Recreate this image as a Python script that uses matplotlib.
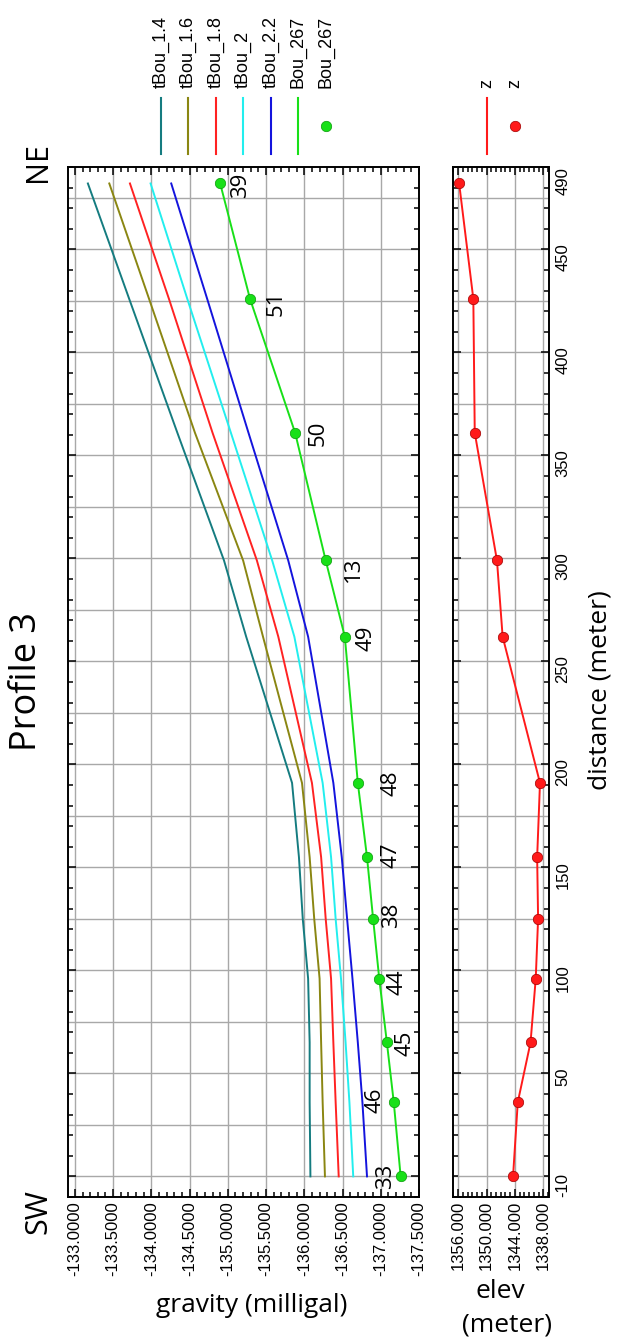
import matplotlib.pyplot as plt
from matplotlib.lines import Line2D
from matplotlib.ticker import FixedLocator, FormatStrFormatter, MultipleLocator

plt.rcParams["font.family"] = ["Liberation Sans", "DejaVu Sans"]

W, H, DPI = 623, 1343, 100

# gravity stations along profile 3 (SW -> NE)
stations = ["33", "46", "45", "44", "38", "47", "48", "49", "13", "50", "51", "39"]
distance = [0, 36, 65, 96, 125, 155, 191, 262, 299, 361, 426, 482]

tbou_14 = [-136.08, -136.07, -136.07, -136.05, -135.98, -135.93, -135.84,
           -135.24, -134.95, -134.34, -133.71, -133.17]
tbou_16 = [-136.27, -136.24, -136.22, -136.20, -136.13, -136.07, -135.97,
           -135.46, -135.20, -134.57, -133.97, -133.45]
tbou_18 = [-136.45, -136.41, -136.38, -136.35, -136.28, -136.22, -136.10,
           -135.66, -135.38, -134.80, -134.23, -133.72]
tbou_20 = [-136.64, -136.59, -136.54, -136.48, -136.41, -136.35, -136.24,
           -135.87, -135.58, -135.04, -134.47, -133.99]
tbou_22 = [-136.82, -136.76, -136.70, -136.63, -136.56, -136.49, -136.38,
           -136.05, -135.79, -135.27, -134.73, -134.26]
bou_267 = [-137.26, -137.17, -137.08, -136.98, -136.90, -136.82, -136.70,
           -136.53, -136.28, -135.88, -135.29, -134.90]

elev = [1344.4, 1343.4, 1340.7, 1339.6, 1339.1, 1339.3, 1338.7,
        1346.6, 1347.8, 1352.5, 1352.8, 1355.8]

series_names = ["tBou_1.4", "tBou_1.6", "tBou_1.8", "tBou_2", "tBou_2.2", "Bou_267"]
series_values = [tbou_14, tbou_16, tbou_18, tbou_20, tbou_22, bou_267]
series_colors = ["#157c80", "#8a8612", "#ff2222", "#22eeee", "#1414dd", "#18e018"]

distance_ticks = [-10, 50, 100, 150, 200, 250, 300, 350, 400, 450, 490]
gravity_ticks = [-133.0, -133.5, -134.0, -134.5, -135.0, -135.5, -136.0,
                 -136.5, -137.0, -137.5]
elev_ticks = [1356, 1350, 1344, 1338]

# station label offsets in pixels (x right, y up)
label_offsets = [(-15, 0), (-19, 2), (18, -1), (18, -4), (18, 4), (24, 2),
                 (33, 0), (21, -2), (28, -9), (23, -1), (26, -4), (20, -2)]

SANS = "Open Sans"
PT = 72 / DPI
GRID = "#a8a8a8"


def px(x, y):
    """Pixel position (from top-left) to figure fraction."""
    return x / W, 1 - y / H


def style_frame(ax):
    for s in ax.spines.values():
        s.set_linewidth(1.4)
    ax.tick_params(which="both", direction="in", top=True, bottom=True,
                   left=True, right=True, width=1.1, colors="black")
    ax.tick_params(which="major", length=6)
    ax.tick_params(which="minor", length=3.5)
    ax.set_axisbelow(True)
    # horizontal grid every 25 m of distance
    for d in range(0, 491, 25):
        ax.axhline(d, color=GRID, linewidth=1.0, zorder=0)


fig = plt.figure(figsize=(W / DPI, H / DPI), dpi=DPI)

ax = fig.add_axes([68 / W, 1 - 1197 / H, (419 - 68) / W, (1197 - 167) / H])
ax2 = fig.add_axes([453 / W, 1 - 1197 / H, (548.5 - 453) / W, (1197 - 167) / H])

for values, color in zip(series_values, series_colors):
    ax.plot(values, distance, color=color, linewidth=1.4, zorder=3)
ax.plot(bou_267, distance, linestyle="none", marker="o", markersize=7.5,
        markerfacecolor="#18e018", markeredgecolor="#0a9a0a",
        markeredgewidth=0.5, zorder=4)

for name, g, d, (dx, dy) in zip(stations, bou_267, distance, label_offsets):
    ax.annotate(name, (g, d), xytext=(dx * PT, dy * PT),
                textcoords="offset points", rotation=90, ha="center",
                va="center", fontsize=16, family=SANS, zorder=5)

ax2.plot(elev, distance, color="#ff1a1a", linewidth=1.4, marker="o",
         markersize=7.5, markerfacecolor="#ff1a1a", markeredgecolor="#a00000",
         markeredgewidth=0.5, zorder=3)

for a in (ax, ax2):
    a.set_ylim(-10, 490)
    a.yaxis.set_minor_locator(MultipleLocator(10))
    style_frame(a)

ax.yaxis.set_major_locator(MultipleLocator(50))
ax.set_xlim(-132.91, -137.5)
ax.xaxis.set_major_locator(FixedLocator(gravity_ticks))
ax.xaxis.set_minor_locator(MultipleLocator(0.1))
ax.xaxis.set_major_formatter(FormatStrFormatter("%.4f"))
ax.tick_params(axis="x", labelrotation=90, labelsize=12, pad=3)
ax.tick_params(axis="y", labelleft=False)
ax.grid(True, axis="x", color=GRID, linewidth=1.0)

ax2.set_xlim(1357.1, 1336.9)
ax2.xaxis.set_major_locator(FixedLocator(elev_ticks))
ax2.xaxis.set_minor_locator(MultipleLocator(1))
ax2.xaxis.set_major_formatter(FormatStrFormatter("%.3f"))
ax2.tick_params(axis="x", labelrotation=90, labelsize=12, pad=3)
ax2.grid(True, axis="x", color=GRID, linewidth=1.0)

# distance labels on the right side of the elevation panel
ax2.set_yticks(distance_ticks)
ax2.yaxis.set_major_formatter(FormatStrFormatter("%d"))
ax2.tick_params(axis="y", labelleft=False, labelright=True,
                labelrotation=90, labelsize=12, pad=5)
ylabels = ax2.get_yticklabels()
ylabels[0].set_va("bottom")
ylabels[-1].set_va("top")

# legend drawn as rotated entries above the panels
legend_x = [161, 188, 216, 243, 271, 298]
for x, name, color in zip(legend_x, series_names, series_colors):
    fig.add_artist(Line2D([x / W, x / W], [1 - 98 / H, 1 - 154 / H],
                          color=color, linewidth=1.5))
    fig.text(*px(x, 88), name, rotation=90, ha="center", va="bottom",
             fontsize=13)
fig.add_artist(Line2D([326 / W], [1 - 126 / H], marker="o", markersize=7.5,
                      markerfacecolor="#18e018", markeredgecolor="#0a9a0a",
                      markeredgewidth=0.5, linestyle="none"))
fig.text(*px(326, 88), "Bou_267", rotation=90, ha="center", va="bottom",
         fontsize=13)
fig.add_artist(Line2D([487 / W, 487 / W], [1 - 98 / H, 1 - 154 / H],
                      color="#ff1a1a", linewidth=1.5))
fig.text(*px(487, 88), "z", rotation=90, ha="center", va="bottom",
         fontsize=13)
fig.add_artist(Line2D([515 / W], [1 - 126 / H], marker="o", markersize=7.5,
                      markerfacecolor="#ff1a1a", markeredgecolor="#a00000",
                      markeredgewidth=0.5, linestyle="none"))
fig.text(*px(515, 88), "z", rotation=90, ha="center", va="bottom",
         fontsize=13)

fig.text(*px(27, 682), "Profile 3", rotation=90, ha="center", va="center",
         fontsize=26, family=SANS)
fig.text(*px(38, 162), "NE", rotation=90, ha="center", va="center",
         fontsize=22, family=SANS)
fig.text(*px(38, 1212), "SW", rotation=90, ha="center", va="center",
         fontsize=22, family=SANS)
fig.text(*px(252, 1306), "gravity (milligal)", ha="center", va="center",
         fontsize=19, family=SANS)
fig.text(*px(500, 1292), "elev", ha="center", va="center",
         fontsize=19, family=SANS)
fig.text(*px(507, 1325), "(meter)", ha="center", va="center",
         fontsize=19, family=SANS)
fig.text(*px(600, 690), "distance (meter)", rotation=90, ha="center",
         va="center", fontsize=19, family=SANS)

fig.savefig("out.png", dpi=DPI)
